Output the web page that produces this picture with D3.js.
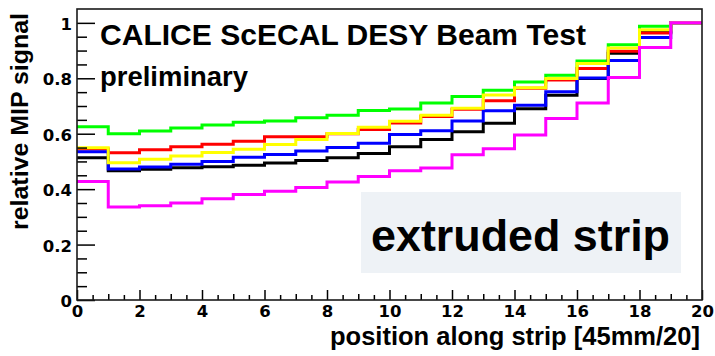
<!DOCTYPE html>
<html>
<head>
<meta charset="utf-8">
<script src="https://cdn.jsdelivr.net/npm/d3@7"></script>
<style>
  body { margin: 0; background: #ffffff; }
  text { font-family: "Liberation Sans", Arial, sans-serif; fill: #000; }
  .tick text { font-family: "DejaVu Sans", sans-serif; font-weight: bold; font-size: 16.5px; }
</style>
</head>
<body>
<svg id="chart" width="715" height="356"></svg>
<script>
// Strip bins (lower edge of each bin, in units of 45mm/20)
const binEdges = [0, 1, 2, 3, 4, 5, 6, 7, 8, 9, 10, 11, 12, 13, 14, 15, 16, 17, 18, 19];
const binEnd = 20;

// Relative MIP signal per bin, one histogram per strip
const greenStrip   = [0.625, 0.600, 0.610, 0.621, 0.631, 0.641, 0.646, 0.658, 0.667, 0.684, 0.689, 0.711, 0.734, 0.757, 0.787, 0.811, 0.862, 0.921, 0.988, 1.0];
const redStrip     = [0.545, 0.531, 0.542, 0.553, 0.562, 0.573, 0.589, 0.589, 0.600, 0.615, 0.639, 0.662, 0.688, 0.719, 0.764, 0.794, 0.835, 0.898, 0.963, 1.0];
const yellowStrip  = [0.549, 0.495, 0.508, 0.520, 0.532, 0.544, 0.561, 0.579, 0.601, 0.623, 0.645, 0.667, 0.692, 0.740, 0.766, 0.799, 0.853, 0.909, 0.975, 1.0];
const blueStrip    = [0.535, 0.473, 0.480, 0.490, 0.500, 0.515, 0.525, 0.538, 0.550, 0.566, 0.597, 0.611, 0.646, 0.683, 0.703, 0.751, 0.801, 0.864, 0.947, 1.0];
const blackStrip   = [0.513, 0.466, 0.472, 0.477, 0.481, 0.486, 0.494, 0.503, 0.513, 0.529, 0.553, 0.579, 0.607, 0.638, 0.690, 0.739, 0.799, 0.890, 0.967, 1.0];
const magentaStrip = [0.428, 0.336, 0.340, 0.350, 0.365, 0.381, 0.392, 0.406, 0.426, 0.446, 0.466, 0.476, 0.524, 0.546, 0.595, 0.655, 0.711, 0.803, 0.911, 1.0];

// Drawing order (later on top)
const seriesList = [
  { values: greenStrip,   color: "#00ff00" },
  { values: blackStrip,   color: "#000000" },
  { values: redStrip,     color: "#ff0000" },
  { values: blueStrip,    color: "#0000ff" },
  { values: yellowStrip,  color: "#ffff00" },
  { values: magentaStrip, color: "#ff00ff" }
];

// Axis ticks
const xMajorTicks = [0, 2, 4, 6, 8, 10, 12, 14, 16, 18, 20];
const yMajorTicks = [0, 0.2, 0.4, 0.6, 0.8, 1.0];
const yTickLabels = ["0", "0.2", "0.4", "0.6", "0.8", "1"];

const titleText = "CALICE ScECAL DESY Beam Test";
const subtitleText = "preliminary";
const boxText = "extruded strip";
const xTitle = "position along strip [45mm/20]";
const yTitle = "relative MIP signal";

const svg = d3.select("#chart");
const frame = { left: 77, right: 702, top: 9, bottom: 300 };

const x = d3.scaleLinear().domain([0, 20]).range([frame.left, frame.right]);
const y = d3.scaleLinear().domain([0, 1.05]).range([frame.bottom, frame.top]);

// Label box
svg.append("rect")
  .attr("x", 361).attr("y", 192).attr("width", 320).attr("height", 81)
  .attr("fill", "#eef2f6");

// Histograms as step lines
const line = d3.line()
  .x(d => x(d[0]))
  .y(d => y(d[1]))
  .curve(d3.curveStepAfter);

seriesList.forEach(s => {
  const pts = binEdges.map((b, i) => [b, s.values[i]]);
  pts.push([binEnd, s.values[s.values.length - 1]]);
  svg.append("path")
    .datum(pts)
    .attr("d", line)
    .attr("fill", "none")
    .attr("stroke", s.color)
    .attr("stroke-width", 3)
    .attr("stroke-linejoin", "miter")
    .attr("stroke-linecap", "butt");
});

// Minor ticks
const xHalfTicks = d3.range(0.5, 20, 1);
const xOddTicks = d3.range(1, 20, 2);
const yMinorTicks = d3.range(0.05, 1.05, 0.05).filter(v => Math.abs(v * 5 - Math.round(v * 5)) > 1e-6);

function minorAxis(axis, vals, size) {
  return axis.tickValues(vals).tickSize(size).tickFormat("");
}

const gx = svg.append("g").attr("transform", `translate(0,${frame.bottom})`);
gx.append("g").call(minorAxis(d3.axisBottom(x), xHalfTicks, -5));
gx.append("g").call(minorAxis(d3.axisBottom(x), xOddTicks, -6));
gx.append("g").call(d3.axisBottom(x).tickValues(xMajorTicks).tickSize(-10).tickPadding(5).tickFormat(d3.format("d")));

const gy = svg.append("g").attr("transform", `translate(${frame.left},0)`);
gy.append("g").call(minorAxis(d3.axisLeft(y), yMinorTicks, -10));
gy.append("g").call(d3.axisLeft(y).tickValues(yMajorTicks).tickSize(-18).tickPadding(5)
  .tickFormat((d, i) => yTickLabels[i]));

svg.selectAll(".domain").remove();
svg.selectAll(".tick line").attr("stroke", "#000").attr("stroke-width", 1.5);
gy.selectAll(".tick text").attr("dy", "0.4em");

// Frame
svg.append("rect")
  .attr("x", frame.left).attr("y", frame.top)
  .attr("width", frame.right - frame.left).attr("height", frame.bottom - frame.top)
  .attr("fill", "none").attr("stroke", "#1a1a1a").attr("stroke-width", 1.6);

// Texts
svg.append("text")
  .attr("x", 100).attr("y", 45)
  .attr("font-size", 30).attr("font-weight", "bold")
  .attr("textLength", 486).attr("lengthAdjust", "spacingAndGlyphs")
  .text(titleText);

svg.append("text")
  .attr("x", 100).attr("y", 86)
  .attr("font-size", 27).attr("font-weight", "bold")
  .attr("textLength", 148).attr("lengthAdjust", "spacingAndGlyphs")
  .text(subtitleText);

svg.append("text")
  .attr("x", 371).attr("y", 251)
  .attr("font-size", 44).attr("font-weight", "bold")
  .attr("textLength", 299).attr("lengthAdjust", "spacingAndGlyphs")
  .text(boxText);

svg.append("text")
  .attr("x", 330).attr("y", 345)
  .attr("font-size", 25).attr("font-weight", "bold")
  .attr("textLength", 370).attr("lengthAdjust", "spacingAndGlyphs")
  .text(xTitle);

svg.append("text")
  .attr("transform", "translate(28,121.5) rotate(-90)")
  .attr("text-anchor", "middle")
  .attr("font-size", 24).attr("font-weight", "bold")
  .attr("textLength", 217).attr("lengthAdjust", "spacingAndGlyphs")
  .text(yTitle);
</script>
</body>
</html>
